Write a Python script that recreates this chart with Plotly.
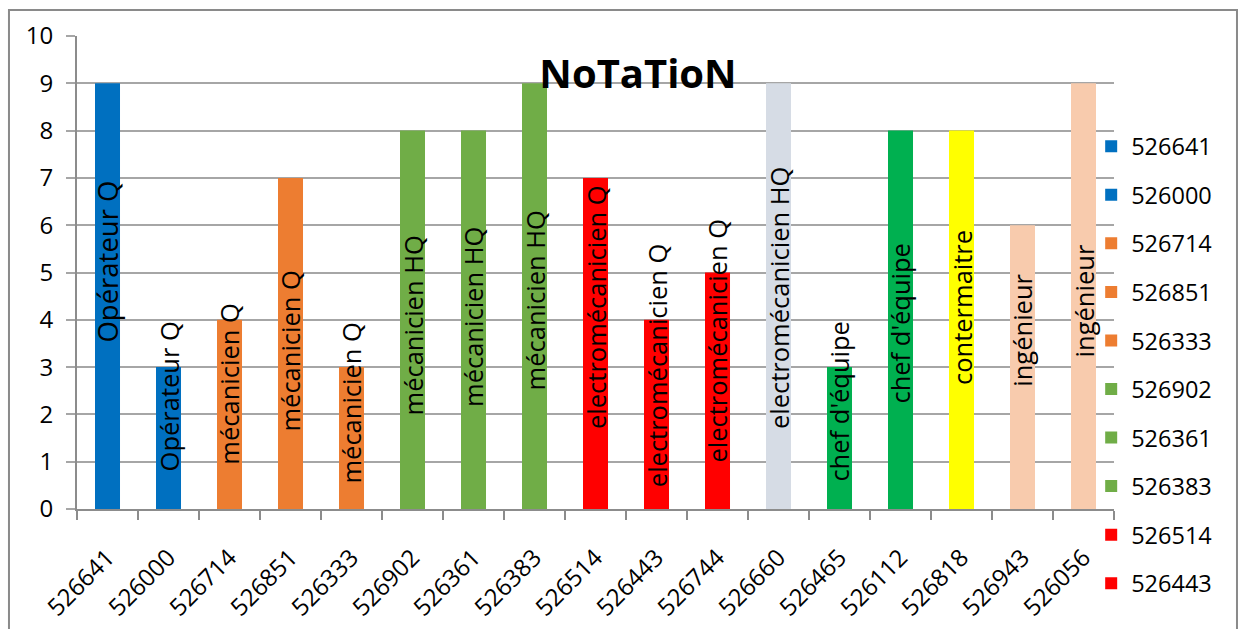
import plotly.graph_objects as go

# Employee IDs, scores and job titles
categories = ['526641', '526000', '526714', '526851', '526333', '526902', '526361',
              '526383', '526514', '526443', '526744', '526660', '526465', '526112',
              '526818', '526943', '526056']
values = [9, 3, 4, 7, 3, 8, 8, 9, 7, 4, 5, 9, 3, 8, 8, 6, 9]
titles = ['Opérateur Q', 'Opérateur Q', 'mécanicien Q', 'mécanicien Q', 'mécanicien Q',
          'mécanicien HQ', 'mécanicien HQ', 'mécanicien HQ', 'electromécanicien Q',
          'electromécanicien Q', 'electromécanicien Q', 'electromécanicien HQ',
          "chef d'équipe", "chef d'équipe", 'contermaitre', 'ingénieur', 'ingénieur']
colors = ['#0070C0', '#0070C0', '#ED7D31', '#ED7D31', '#ED7D31', '#70AD47', '#70AD47',
          '#70AD47', '#FF0000', '#FF0000', '#FF0000', '#D6DCE5', '#00B050', '#00B050',
          '#FFFF00', '#F8CBAD', '#F8CBAD']

# vertical centre of each rotated job-title label (axis units)
label_pos = [5.22, 2.37, 2.64, 3.34, 2.24, 3.87, 4.05, 4.40, 4.26, 3.03, 3.55, 4.45,
             2.26, 3.91, 4.26, 3.78, 4.40]

FONT = 'Open Sans'
LEGEND_ITEMS = 10  # only the first entries fit in the legend column

fig = go.Figure()
for i, (cat, val, col) in enumerate(zip(categories, values, colors)):
    fig.add_trace(go.Bar(
        x=[cat], y=[val], name=cat, marker=dict(color=col, line=dict(width=0)),
        width=0.41, legendgroup=cat, showlegend=i < LEGEND_ITEMS,
        textposition='none', hoverinfo='x+y'))

# job title written up each bar (category axis: position by index)
for i, (txt, pos) in enumerate(zip(titles, label_pos)):
    fig.add_annotation(x=i, y=pos, xref='x', yref='y', text=txt, textangle=-90,
                       showarrow=False, xanchor='center', yanchor='middle',
                       font=dict(family=FONT, size=27.5 if i == 0 else 25.5, color='black'))

# chart frame
fig.add_shape(type='rect', xref='paper', yref='paper',
              x0=-0.0656, x1=1.1186, y0=-0.30, y1=1.055,
              line=dict(color='#8A8A8A', width=2), fillcolor='rgba(0,0,0,0)', layer='below')

fig.update_layout(
    width=1242, height=629,
    margin=dict(l=77, r=128, t=36, b=120, autoexpand=False),
    paper_bgcolor='white', plot_bgcolor='white',
    barmode='overlay',
    font=dict(family=FONT, color='black'),
    title=dict(text='<b>NoTaTioN</b>', x=638 / 1242, xref='container', xanchor='center',
               y=1 - 74 / 629, yref='container', yanchor='middle',
               font=dict(family=FONT, size=40, color='black')),
    legend=dict(x=0.978, xanchor='left', y=0.813, yanchor='top',
                font=dict(family=FONT, size=23.5, color='black'),
                tracegroupgap=15, bgcolor='rgba(0,0,0,0)', itemclick=False,
                maxheight=629),
    showlegend=True,
    xaxis=dict(type='category', categoryorder='array', categoryarray=categories,
               range=[-0.5, len(categories) - 0.5],
               showline=True, linecolor='#8C8C8C', linewidth=2,
               ticks='outside', tickson='boundaries', ticklen=9, tickwidth=2,
               tickcolor='#8C8C8C', tickangle=-45, ticklabelstandoff=23,
               tickfont=dict(family=FONT, size=24, color='black'),
               showgrid=False, zeroline=False),
    yaxis=dict(range=[0, 10], dtick=1, tick0=0,
               showline=True, linecolor='#8C8C8C', linewidth=2,
               ticks='outside', ticklen=9, tickwidth=2, tickcolor='#A6A6A6',
               ticklabelstandoff=8,
               tickfont=dict(family=FONT, size=24, color='black'),
               showgrid=True, gridcolor='#A6A6A6', gridwidth=1.5, zeroline=False),
)

fig.write_html('out.html')
